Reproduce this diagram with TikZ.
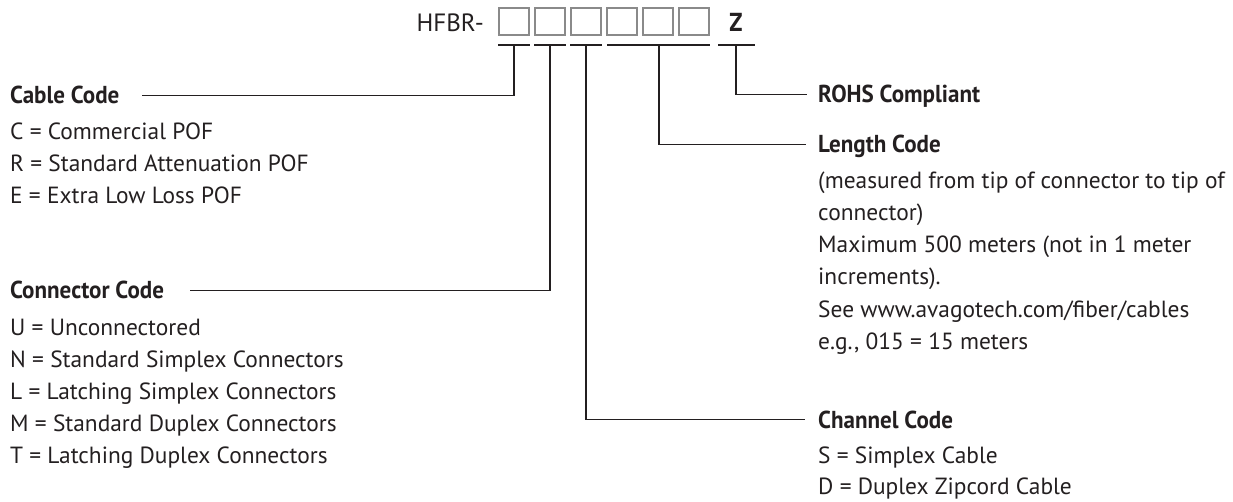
\documentclass[tikz,border=0pt]{standalone}
\usepackage{fontspec}
\setmainfont{PT Sans}
\newfontfamily\headfont[FakeStretch=0.94]{PT Sans}
\definecolor{ink}{HTML}{231F20}
\definecolor{slotgray}{HTML}{8A8A8A}

\begin{document}
\begin{tikzpicture}[x=1pt, y=-1pt,
  slot/.style={draw=slotgray, line width=1.4pt, minimum width=30pt, minimum height=27pt, inner sep=0pt},
  lead/.style={draw=ink, line width=1.3pt},
  head/.style={anchor=base west, inner sep=0pt, text height=17pt, text depth=0pt, text=ink,
    font=\headfont\bfseries\fontsize{24.5}{28}\selectfont},
  txt/.style={anchor=base west, inner sep=0pt, text=ink, font=\fontsize{23.4}{28}\selectfont}]
\useasboundingbox (0, 0) rectangle (1233, 502);

% part number
\node[anchor=base east, inner sep=0pt, text=ink, font=\fontsize{25}{30}\selectfont] (hfbr) at (484, 32) {HFBR-};
\node[slot] (b1) at (514, 21.5) {};
\node[slot] (b2) at (550, 21.5) {};
\node[slot] (b3) at (586, 21.5) {};
\node[slot] (b4) at (622, 21.5) {};
\node[slot] (b5) at (658, 21.5) {};
\node[slot] (b6) at (694, 21.5) {};
\node[anchor=base, inner sep=0pt, text=ink, font=\headfont\bfseries\fontsize{26}{30}\selectfont] (z) at (736, 32) {Z};

% underlines
\draw[lead] (498, 45) -- (530, 45);
\draw[lead] (534, 45) -- (566, 45);
\draw[lead] (570, 45) -- (602, 45);
\draw[lead] (607, 45) -- (710, 45);
\draw[lead] (718, 45) -- (755, 45);
\coordinate (u1) at (514, 45);
\coordinate (u2) at (550, 45);
\coordinate (u3) at (586, 45);
\coordinate (u4) at (659, 45);
\coordinate (u5) at (736, 45);

% left column
\node[head] (cable) at (10, 104) {Cable Code};
\node[txt] (c1) at (10, 140) {C = Commercial POF};
\node[txt] (c2) at (10, 172) {R = Standard Attenuation POF};
\node[txt] (c3) at (10, 204) {E = Extra Low Loss POF};

\node[head] (conn) at (10, 299) {Connector Code};
\node[txt] (n1) at (10, 335) {U = Unconnectored};
\node[txt] (n2) at (10, 367) {N = Standard Simplex Connectors};
\node[txt] (n3) at (10, 399) {L = Latching Simplex Connectors};
\node[txt] (n4) at (10, 431) {M = Standard Duplex Connectors};
\node[txt] (n5) at (10, 463) {T = Latching Duplex Connectors};

% right column
\node[head] (rohs) at (818, 103) {ROHS Compliant};

\node[head] (len) at (818, 153) {Length Code};
\node[txt] (l1) at (818, 189) {(measured from tip of connector to tip of};
\node[txt] (l2) at (818, 221) {connector)};
\node[txt] (l3) at (818, 253) {Maximum 500 meters (not in 1 meter};
\node[txt] (l4) at (818, 285) {increments).};
\node[txt] (l5) at (818, 317) {See www.avagotech.com/fiber/cables};
\node[txt] (l6) at (818, 349) {e.g., 015 = 15 meters};

\node[head] (chan) at (818, 428) {Channel Code};
\node[txt] (h1) at (818, 463) {S = Simplex Cable};
\node[txt] (h2) at (818, 494) {D = Duplex Zipcord Cable};

% leaders
\draw[lead] (u1) |- ([xshift=22pt]cable.east);
\draw[lead] (u2) |- ([xshift=26pt]conn.east);
\draw[lead] (u3) |- ([xshift=-13pt]chan.west);
\draw[lead] (u4) |- ([xshift=-12pt]len.west);
\draw[lead] (u5) |- ([xshift=-11pt]rohs.west);
\end{tikzpicture}
\end{document}
